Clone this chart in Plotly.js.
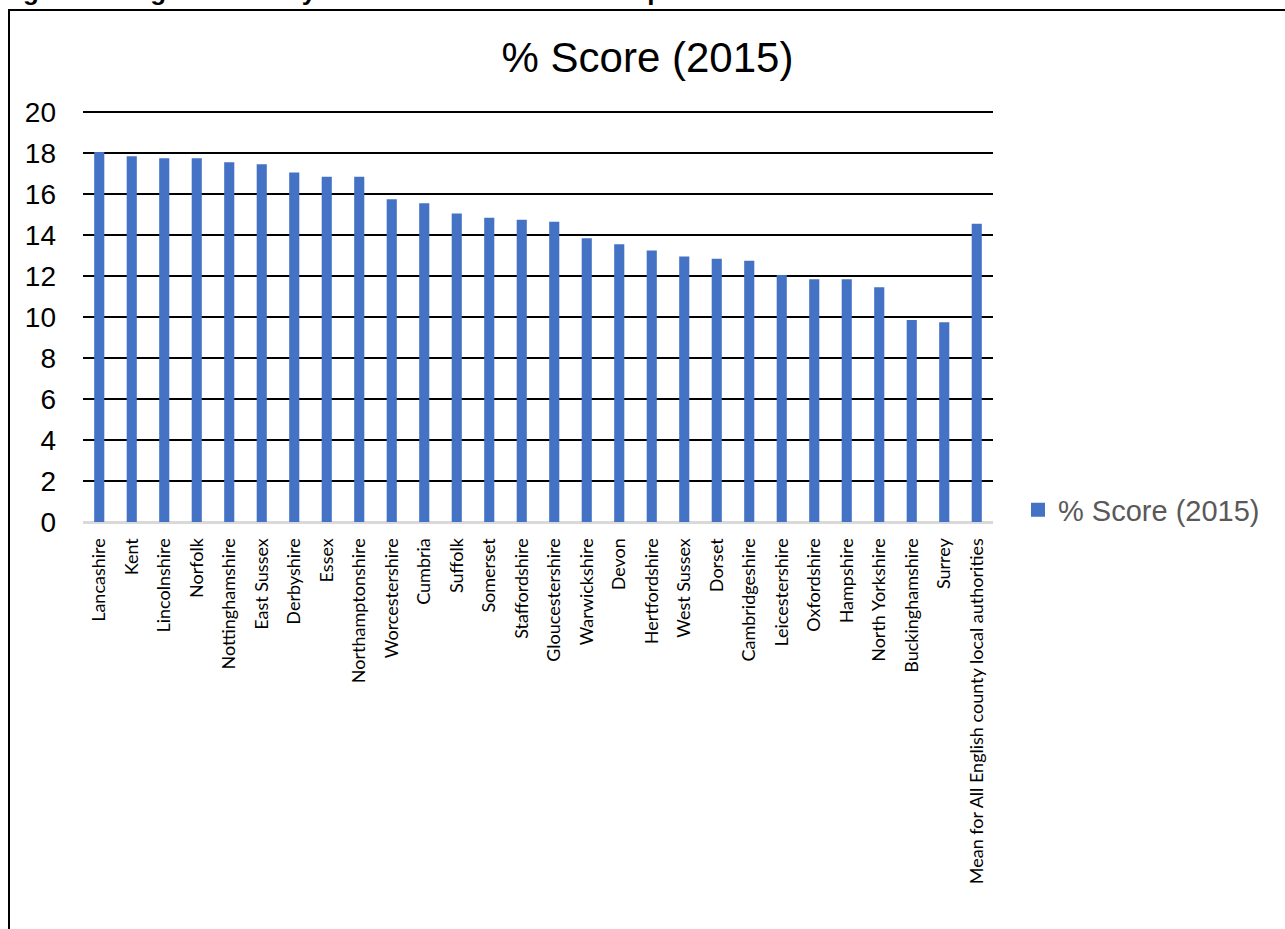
<!DOCTYPE html>
<html>
<head>
<meta charset="utf-8">
<script src="https://cdn.plot.ly/plotly-3.0.1.min.js"></script>
<style>
  html, body { margin: 0; padding: 0; background: #fff; overflow: hidden; }
  #caption {
    position: absolute; left: 0; top: -24px;
    font-family: "Liberation Sans", Arial, sans-serif; font-weight: bold;
    font-size: 26px; color: #000; white-space: nowrap;
  }
  #frame {
    position: absolute; left: 8px; top: 9px; width: 1300px; height: 950px;
    border: 2px solid #000; box-sizing: border-box;
  }
  #chart { position: absolute; left: 0; top: 0; width: 1285px; height: 929px; }
</style>
</head>
<body>
<div id="caption">Figure 6: England County Council PHE % score comparisons</div>
<div id="frame"></div>
<div id="chart"></div>
<script>
// County councils, ordered by score
const counties = [
  "Lancashire", "Kent", "Lincolnshire", "Norfolk", "Nottinghamshire",
  "East Sussex", "Derbyshire", "Essex", "Northamptonshire", "Worcestershire",
  "Cumbria", "Suffolk", "Somerset", "Staffordshire", "Gloucestershire",
  "Warwickshire", "Devon", "Hertfordshire", "West Sussex", "Dorset",
  "Cambridgeshire", "Leicestershire", "Oxfordshire", "Hampshire",
  "North Yorkshire", "Buckinghamshire", "Surrey",
  "Mean for All English county local authorities"
];

// % Score (2015)
const score2015 = [
  18.0, 17.8, 17.7, 17.7, 17.5,
  17.4, 17.0, 16.8, 16.8, 15.7,
  15.5, 15.0, 14.8, 14.7, 14.6,
  13.8, 13.5, 13.2, 12.9, 12.8,
  12.7, 12.0, 11.8, 11.8,
  11.4, 9.8, 9.7,
  14.5
];

const yTicks = [0, 2, 4, 6, 8, 10, 12, 14, 16, 18, 20];
const seriesName = "% Score (2015)";
const barBlue = "#4472C4";

const trace = {
  type: "bar",
  x: counties,
  y: score2015,
  name: seriesName,
  marker: { color: barBlue, line: { color: barBlue, width: 2 } },
  showlegend: true,
  hoverinfo: "x+y"
};

const layout = {
  width: 1285,
  height: 929,
  paper_bgcolor: "rgba(0,0,0,0)",
  plot_bgcolor: "rgba(0,0,0,0)",
  margin: { l: 83, r: 292, t: 110, b: 407, pad: 0 },
  bargap: 0.75,
  title: {
    text: "% Score (2015)",
    font: { family: "Liberation Sans, Arial, sans-serif", size: 42, color: "#000" },
    x: (500 + 795) / 2 / 1285, xanchor: "center",
    y: 1 - 57 / 929, yanchor: "middle"
  },
  xaxis: {
    type: "category",
    tickangle: -90,
    ticks: "",
    showgrid: false,
    showline: true,
    linecolor: "#d9d9d9",
    linewidth: 2,
    ticklabelstandoff: 7,
    tickfont: { family: "Lato, 'Open Sans', sans-serif", size: 18, color: "#000" },
    automargin: false
  },
  yaxis: {
    // a little headroom keeps the top gridline (20) from being dropped at the edge
    range: [0, 20.1],
    tickvals: yTicks,
    ticktext: yTicks.map(String),
    showgrid: true,
    gridcolor: "#000",
    gridwidth: 1.6,
    zeroline: true,
    zerolinecolor: "#d9d9d9",
    zerolinewidth: 2,
    showline: false,
    ticks: "",
    ticklabelstandoff: 26,
    tickfont: { family: "Liberation Sans, Arial, sans-serif", size: 28, color: "#000" },
    automargin: false
  },
  showlegend: true,
  legend: {
    x: (1018 - 83) / 910,
    xanchor: "left",
    y: (522 - 510) / 412,
    yanchor: "middle",
    font: { family: "Liberation Sans, Arial, sans-serif", size: 29, color: "#595959" },
    bgcolor: "rgba(0,0,0,0)",
    itemsizing: "constant"
  }
};

Plotly.newPlot("chart", [trace], layout, { displayModeBar: false, staticPlot: true });
</script>
</body>
</html>
